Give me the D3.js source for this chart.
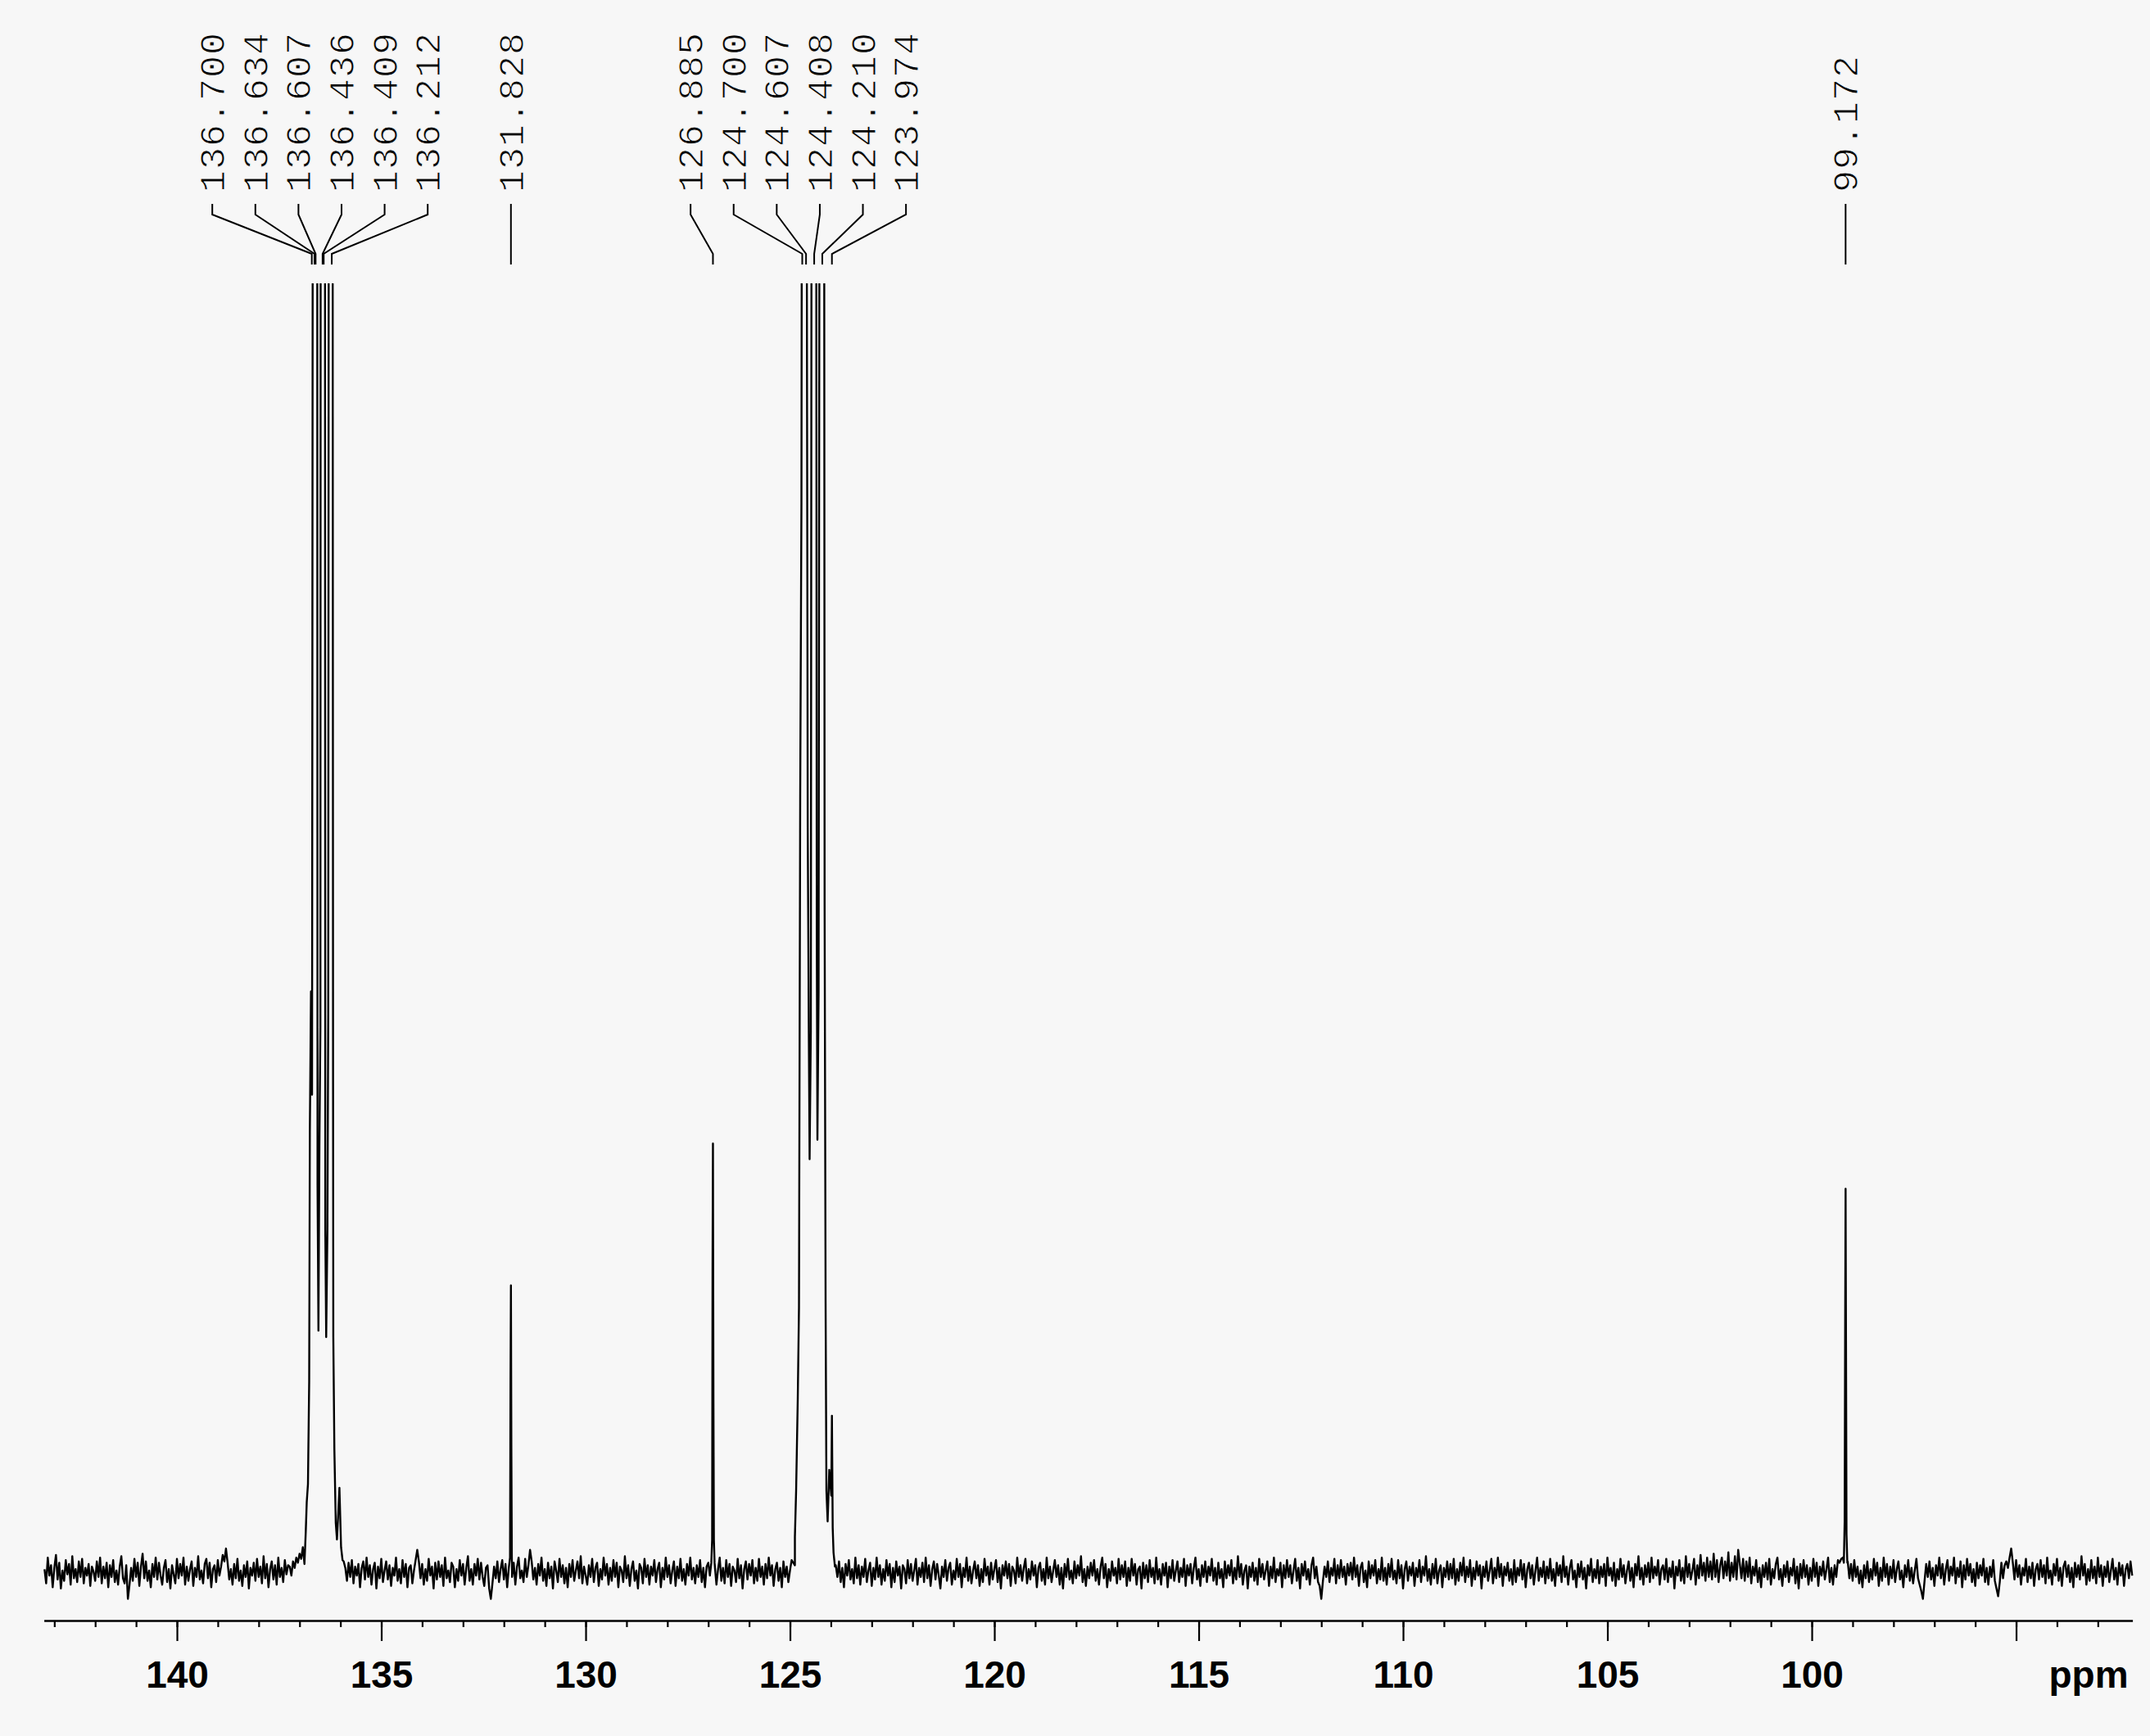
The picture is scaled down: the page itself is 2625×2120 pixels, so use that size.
<!DOCTYPE html>
<html lang="en">
<head>
<meta charset="utf-8">
<title>13C NMR spectrum</title>
<script src="https://cdnjs.cloudflare.com/ajax/libs/d3/7.8.5/d3.min.js"></script>
<style>
  html, body { margin: 0; padding: 0; background: #f7f7f7; }
  svg { display: block; }
  .tick text { font-family: "Liberation Sans", Arial, sans-serif; font-weight: bold; font-size: 46px; fill: #000; }
  .peaklabel { font-family: "Liberation Mono", "DejaVu Sans Mono", monospace; font-size: 45px; letter-spacing: 1px; fill: #000; stroke: #f7f7f7; stroke-width: 1; }
</style>
</head>
<body>
<script>
// Width and height
var w = 2625;
var h = 2120;

// picked peaks (ppm), left to right
var peakValues = [136.700, 136.634, 136.607, 136.436, 136.409, 136.212, 131.828,
                  126.885, 124.700, 124.607, 124.408, 124.210, 123.974, 99.172];

// axis ticks
var majorTicks = [140, 135, 130, 125, 120, 115, 110, 105, 100, 95];
var tickLabels = ["140", "135", "130", "125", "120", "115", "110", "105", "100", ""];
var minorTicks = d3.range(143, 92, -1);

// baseline noise, one value every 0.04 ppm from 143.24 ppm
// (values that fall inside a peak window below are not used)
var noiseStart = 143.24;
var noiseStep = 0.04;
var noise = [
  3,-8,12,-2,6,-11,4,14,-5,8,-12,2,-6,10,-1,7,-9,13,-4,3,
  -7,9,-3,11,-8,4,-2,7,-10,5,1,-6,9,-3,12,-8,5,-4,8,-11,
  6,-3,10,-7,2,-9,5,13,-4,-8,6,-20,-9,4,-6,11,-3,8,-10,5,
  15,-4,9,-6,2,-11,7,-3,12,-5,8,-2,-9,4,10,-7,3,-12,6,-1,
  -8,11,-4,7,-2,12,-9,5,-6,3,9,-10,4,-3,13,-5,2,-8,7,11,
  -4,8,-11,3,6,-7,10,-2,5,14,9,19,8,-5,3,-9,7,-4,11,-6,
  2,-10,6,-3,9,-12,4,-2,8,-6,11,-3,5,-8,13,-4,7,-11,3,9,
  -5,6,-9,12,-3,4,-7,10,-1,6,5,-2,9,4,12,8,15,11,20,26,
  24,22,20,18,16,15,14,13,12,12,12,13,14,15,16,17,18,18,17,16,
  15,13,12,9,4,-6,8,-3,10,-8,5,-2,7,-11,4,9,-5,12,-3,6,
  -9,3,8,-12,5,-4,11,-7,2,9,-5,6,-10,4,-2,12,-6,3,-8,10,
  -3,7,-11,4,6,-8,2,10,18,9,-4,7,-9,3,-6,11,-2,5,-12,8,
  -5,9,-3,6,-10,12,-4,2,-7,8,5,-11,3,-6,10,-2,7,-9,4,13,
  -6,3,-9,7,-2,11,-5,8,-3,-10,4,6,-12,-20,-8,5,-4,9,-7,3,
  10,-5,7,-11,4,6,-3,8,-9,5,12,-4,2,-7,11,-3,6,18,9,-5,
  4,-9,7,-2,12,-6,3,-10,8,-4,5,-12,9,2,-7,11,-3,6,-8,4,
  -11,7,-3,10,-6,2,9,-4,13,-8,5,-2,-9,6,-3,11,-7,4,8,-10,
  3,-5,12,-2,7,-9,4,-6,10,-3,8,-11,5,2,-7,13,-4,6,-10,3,
  9,-6,2,-12,7,4,-8,11,-3,6,-9,5,-2,10,-7,3,8,-11,4,-5,
  12,-3,6,-8,2,9,-10,5,-4,11,-6,3,-9,7,-2,12,-5,4,-8,6,
  -3,10,-7,4,-11,5,8,-2,6,4,6,-9,3,12,-6,4,-8,10,-3,7,
  -10,5,2,-7,11,-4,6,-12,3,9,-5,7,-2,10,-8,4,-6,11,-3,5,
  -9,7,-4,12,-2,6,-10,3,8,-6,4,-11,9,-3,5,-7,2,10,8,6,
  5,-3,7,-6,4,-2,8,-5,3,-7,6,-4,9,-3,5,-8,4,-2,6,-5,
  3,-6,8,-4,6,-3,9,-7,4,-11,7,-2,10,-5,3,-8,12,-4,6,-9,
  5,-3,11,-7,2,8,-10,4,-5,12,-3,6,-9,3,-6,10,-2,7,-11,4,
  -7,9,-2,5,-12,6,3,-8,10,-4,7,-6,2,11,-9,4,-3,8,-7,12,
  -4,6,-10,3,9,-5,7,-2,-12,5,-3,10,-6,4,8,-9,2,-5,11,-3,
  7,-11,4,-3,12,-6,5,-8,2,9,-4,6,-10,3,-7,11,-2,5,-9,8,
  -5,3,10,-7,4,-12,6,-2,9,-4,7,-10,5,2,-8,12,-3,6,-6,4,
  11,-8,3,-5,9,-2,6,-11,4,8,-6,3,-9,12,-4,5,-7,2,10,-3,
  6,-9,4,-12,7,-3,11,-5,2,-8,9,-4,6,-2,13,-7,3,-10,5,-4,
  8,-2,10,-6,3,-9,5,12,-4,7,-11,3,-6,9,-2,4,-8,11,-5,6,
  -3,9,-10,4,-6,11,-2,7,-9,3,5,-12,8,-4,6,-7,10,-3,4,-8,
  12,-5,3,-9,7,-2,8,-11,5,-4,10,-6,2,9,-7,4,-3,11,-10,6,
  -2,7,-8,4,12,-5,3,-10,6,-3,9,-7,5,-2,11,-6,4,-9,8,-4,
  3,-11,9,-4,6,-2,10,-8,4,-5,13,-3,7,-9,2,6,-12,5,-3,8,
  -6,4,-9,11,-3,7,-5,2,9,-10,5,-4,12,-7,3,-2,8,-11,6,-4,
  10,-3,6,-8,2,11,-6,4,-12,7,-2,9,-5,3,-9,6,12,-4,5,-7,
  -10,-20,-6,5,-3,9,-7,4,-2,11,-8,6,-4,10,-3,5,-9,7,-2,8,
  -5,12,-3,6,-10,4,8,-7,2,-11,9,-4,6,-2,10,-8,3,-5,12,-6,
  4,-9,7,-3,11,-5,2,-8,10,-4,6,-12,3,9,-6,5,-2,8,-10,4,
  -3,10,-7,5,-2,13,-6,3,-9,7,-4,11,-8,2,6,-11,4,-3,9,-5,
  7,-4,11,-9,3,-6,8,-2,12,-7,5,-3,10,-10,4,-5,9,-2,6,-12,
  5,-3,9,-6,2,11,-8,4,-4,12,-3,7,-10,5,-2,8,-6,3,-9,10,
  -7,4,-2,10,-5,7,-11,3,8,-4,6,-9,2,12,-6,4,-3,9,-8,5,
  -4,11,-6,3,-10,8,-2,6,-7,13,-3,5,-9,4,10,-5,2,-11,7,-3,
  9,-5,4,-12,6,-2,11,-7,3,-4,10,-8,5,-3,7,-10,12,-2,4,-6,
  8,-10,3,-5,11,-3,6,-8,2,9,-6,4,-11,7,-2,13,-5,4,-9,6,
  -3,8,-7,12,-4,5,-2,10,-9,3,6,-5,11,-7,4,-3,9,-12,5,-2,
  10,-6,4,-8,13,-3,7,-5,2,11,-9,6,-4,14,-2,8,-6,12,-3,9,
  -5,15,-3,10,-7,6,12,-4,9,-2,16,-6,8,-3,13,-5,18,7,-4,11,
  -6,9,-3,12,-8,5,-2,10,-7,4,-11,6,-3,8,-5,11,-9,3,-4,7,
  12,-5,3,-10,6,-3,9,-7,4,-2,11,-8,5,-12,7,-4,10,-3,6,-9,
  4,-6,11,-3,8,-10,5,-2,9,-5,3,12,-7,4,-9,6,-3,10,8,11,
  12,10,10,9,-4,7,-6,10,-3,5,-8,2,-11,6,-4,9,-7,3,-5,11,
  -2,8,-10,4,-6,12,-3,7,-9,5,-4,10,-7,3,9,-5,2,-11,6,-3,
  10,-6,4,-8,2,11,-4,-9,-14,-20,-6,7,-3,9,-5,4,-10,6,-2,12,
  -4,7,-9,3,10,-6,5,-2,12,-8,4,-3,9,-11,6,-5,11,-2,7,-7,
  3,-10,8,-4,6,-2,11,-7,4,-9,5,-3,10,-6,-12,-18,-7,8,-4,6,
  9,4,12,19,8,-5,10,-3,6,-9,4,-2,11,-7,5,-4,8,-10,3,7,
  -5,10,-3,6,-8,12,-4,2,-9,7,-2,11,-6,4,-10,5,9,-3,6,-7,
  4,-11,8,-3,6,-5,13,-2,7,-9,3,-6,10,-4,5,-8,12,-3,6,-10,
  5,-3,9,-7,2,11,-5,4,-9,8,-2,6,-10,3,7,-4,9,-2
];

// peak traces [ppm, intensity]; 1000 = top of the plot, the big multiplets run off scale
var multiplet136 = [
  [136.880, 7], [136.848, 32], [136.824, 55], [136.794, 69], [136.764, 149],
  [136.748, 342], [136.720, 451], [136.694, 371], [136.670, 1400], [136.630, 1250],
  [136.600, 1300], [136.570, 1400], [136.560, 301], [136.538, 188], [136.514, 331],
  [136.490, 423], [136.480, 1400], [136.422, 1350], [136.380, 1400], [136.370, 266],
  [136.348, 183], [136.318, 266], [136.298, 434], [136.280, 1400], [136.212, 1450],
  [136.194, 1400], [136.180, 382], [136.174, 183], [136.148, 96], [136.114, 39],
  [136.084, 26], [136.024, 66], [135.984, 20], [135.948, 10]
];
var singlet131 = [[131.850, 12], [131.838, 150], [131.828, 223], [131.818, 100], [131.806, 14]];
var singlet126 = [[126.925, 8], [126.905, 26], [126.895, 237], [126.885, 333], [126.873, 134], [126.862, 26], [126.845, 8]];
var multiplet124 = [
  [124.880, 28], [124.850, 64], [124.810, 135], [124.780, 206], [124.750, 604],
  [124.720, 830], [124.700, 1400], [124.655, 1150], [124.607, 1400], [124.566, 578],
  [124.540, 422], [124.520, 321], [124.490, 420], [124.465, 1400], [124.408, 1450],
  [124.365, 1400], [124.345, 500], [124.329, 336], [124.300, 450], [124.269, 1400],
  [124.210, 1450], [124.169, 1400], [124.153, 517], [124.129, 211], [124.109, 64],
  [124.079, 40], [124.039, 80], [123.990, 60], [123.974, 122], [123.955, 35],
  [123.935, 16], [123.900, 5]
];
var singlet99 = [[99.215, 8], [99.195, 40], [99.182, 200], [99.172, 298], [99.162, 180], [99.150, 30], [99.130, 8]];

var peakTraces = [multiplet136, singlet131, singlet126, multiplet124, singlet99];

// scales
var x = d3.scaleLinear().domain([143.255, 92.153]).range([53.6, 2603.6]);
var y = d3.scaleLinear().domain([0, 1000]).range([1921, 346]);

// build the trace: noise outside the peak windows, then the peak points
var windows = peakTraces.map(function(p) {
  return d3.extent(p, function(d) { return d[0]; });
});
function inPeak(ppm) {
  return windows.some(function(wn) { return ppm >= wn[0] && ppm <= wn[1]; });
}
var trace = [];
noise.forEach(function(v, i) {
  var ppm = noiseStart - i * noiseStep;
  if (!inPeak(ppm) && ppm > x.domain()[1]) trace.push([ppm, v]);
});
peakTraces.forEach(function(p) { trace = trace.concat(p); });
trace.sort(function(a, b) { return b[0] - a[0]; });

//Create SVG element
var svg = d3.select("body")
  .append("svg")
  .attr("width", w)
  .attr("height", h);

svg.append("rect").attr("width", w).attr("height", h).attr("fill", "#f7f7f7");

svg.append("clipPath").attr("id", "plotclip")
  .append("rect")
  .attr("x", x.range()[0] - 2).attr("y", y(1000))
  .attr("width", x.range()[1] - x.range()[0] + 4).attr("height", 1700);

var line = d3.line()
  .x(function(d) { return x(d[0]); })
  .y(function(d) { return y(d[1]); });

svg.append("path")
  .datum(trace)
  .attr("clip-path", "url(#plotclip)")
  .attr("d", line)
  .attr("fill", "none")
  .attr("stroke", "#000")
  .attr("stroke-width", 2.4)
  .attr("stroke-linejoin", "round");

// axis
var axisY = 1979;
var minorAxis = svg.append("g")
  .attr("transform", "translate(0," + axisY + ")")
  .call(d3.axisBottom(x).tickValues(minorTicks).tickSize(8).tickSizeOuter(0).tickFormat(""));
minorAxis.select(".domain").attr("stroke", "#000").attr("stroke-width", 2.6);
minorAxis.selectAll(".tick line").attr("stroke", "#000").attr("stroke-width", 2.2);

var majorAxis = svg.append("g")
  .attr("transform", "translate(0," + axisY + ")")
  .call(d3.axisBottom(x).tickValues(majorTicks).tickSize(25).tickSizeOuter(0).tickPadding(24)
    .tickFormat(function(d, i) { return tickLabels[i]; }));
majorAxis.select(".domain").remove();
majorAxis.selectAll(".tick line").attr("stroke", "#000").attr("stroke-width", 2.2);
majorAxis.attr("font-family", null).attr("font-size", null);

svg.append("text")
  .attr("x", x.range()[1] - 5)
  .attr("y", 2061)
  .attr("text-anchor", "end")
  .style("font-family", "'Liberation Sans', Arial, sans-serif")
  .style("font-weight", "bold")
  .style("font-size", "46px")
  .text("ppm");

// peak labels: spread overlapping labels around the mean of their peaks
var labelGap = 52.6;
var groups = peakValues.map(function(v) { return { peaks: [x(v)] }; });
function span(g) {
  var c = d3.mean(g.peaks), n = g.peaks.length;
  return [c - (n - 1) / 2 * labelGap, c + (n - 1) / 2 * labelGap];
}
var merged = true;
while (merged) {
  merged = false;
  for (var i = 0; i < groups.length - 1; i++) {
    if (span(groups[i])[1] + labelGap > span(groups[i + 1])[0]) {
      groups[i].peaks = groups[i].peaks.concat(groups[i + 1].peaks);
      groups.splice(i + 1, 1);
      merged = true;
      break;
    }
  }
}
var labelX = [];
groups.forEach(function(g) {
  var s = span(g);
  g.peaks.forEach(function(p, k) { labelX.push(s[0] + k * labelGap); });
});

var fmt = d3.format(".3f");
var labels = svg.append("g");
peakValues.forEach(function(v, i) {
  var lx = labelX[i], px = x(v);
  labels.append("text")
    .attr("class", "peaklabel")
    .attr("transform", "translate(" + lx + ",235) rotate(-90)")
    .attr("x", 0)
    .attr("y", 15)
    .text(fmt(v));
  labels.append("path")
    .attr("d", "M" + lx + ",249V262L" + px + ",310V323")
    .attr("fill", "none")
    .attr("stroke", "#000")
    .attr("stroke-width", 2);
});
</script>
</body>
</html>
